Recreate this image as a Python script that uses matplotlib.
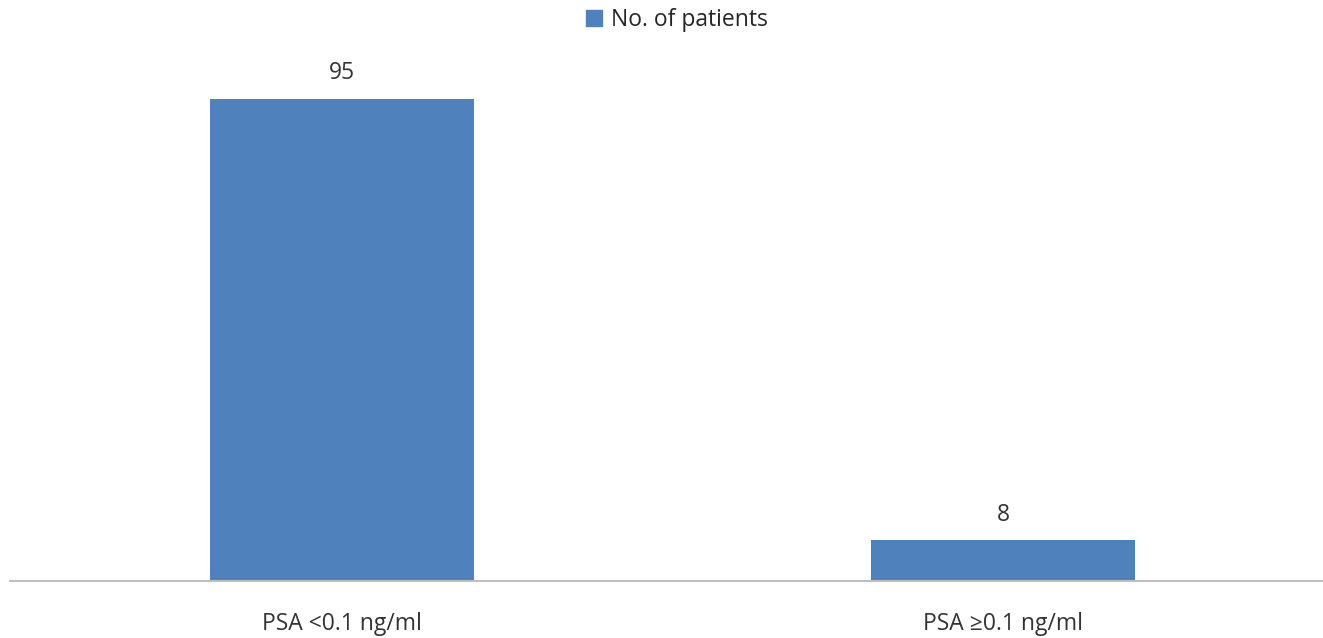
import matplotlib.pyplot as plt
from matplotlib.patches import Patch

# Veriler
categories = ['PSA <0.1 ng/ml', 'PSA \u22650.1 ng/ml']
patients = [95, 8]
series_name = 'No. of patients'

bar_color = '#4F81BD'
plt.rcParams['font.family'] = ['Open Sans', 'DejaVu Sans']

fig = plt.figure(figsize=(13.23, 6.38), dpi=100)
W, H = 1323, 638
# eksen: x 10..1323 piksel, y 60..581 piksel
ax = fig.add_axes([10 / W, (H - 581) / H, (1323 - 10) / W, (581 - 60) / H])

x = range(len(categories))
bars = ax.bar(x, patients, width=0.4, color=bar_color, zorder=2)

for b, v in zip(bars, patients):
    ax.annotate(str(v), (b.get_x() + b.get_width() / 2, v),
                xytext=(0, 10), textcoords='offset points',
                ha='center', va='bottom', fontsize=16.5, color='#333333')

ax.set_xlim(-0.502, 1.484)
ax.set_ylim(0, 102.7)
ax.set_yticks([])
ax.set_xticks(list(x))
ax.set_xticklabels(categories, fontsize=16.5, color='#333333')
ax.tick_params(axis='x', length=0, pad=22)
for s in ['top', 'right', 'left']:
    ax.spines[s].set_visible(False)
ax.spines['bottom'].set_color('#bfbfbf')
ax.spines['bottom'].set_linewidth(1.5)

fig.legend(handles=[Patch(color=bar_color, label=series_name)],
           loc='center', bbox_to_anchor=(677 / W, 1 - 20 / H),
           frameon=False, fontsize=16.5, handlelength=0.7, handleheight=0.7,
           handletextpad=0.4, labelcolor='#262626')

fig.savefig('out.png', dpi=100)
